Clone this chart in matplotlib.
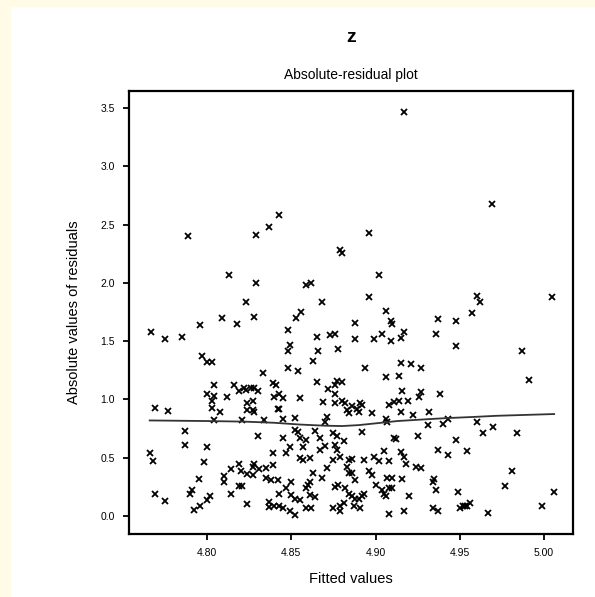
import matplotlib
matplotlib.use('Agg')
import matplotlib.pyplot as plt
from matplotlib.patches import Rectangle

plt.rcParams['font.family'] = ['Liberation Sans', 'DejaVu Sans']

# fitted values (x) and absolute residuals (y)
fitted = [
    4.917, 4.969, 4.843, 4.837, 4.829, 4.789, 4.896, 4.879, 4.880, 4.813,
    4.829, 4.859, 4.862, 4.902, 4.823, 4.868, 4.896, 4.960, 4.962, 5.005,
    4.809, 4.796, 4.818, 4.767, 4.775, 4.785, 4.797, 4.800, 4.803, 4.804,
    4.816, 4.819, 4.822, 4.800, 4.804, 4.812, 4.803, 4.803, 4.769, 4.777,
    4.808, 4.804, 4.821, 4.787, 4.787, 4.800, 4.766, 4.768, 4.798, 4.819,
    4.814, 4.820, 4.810, 4.795, 4.810, 4.819, 4.821, 4.769, 4.791, 4.790,
    4.814, 4.775, 4.802, 4.800, 4.796, 4.792,
    4.828, 4.856, 4.853, 4.848, 4.865, 4.873, 4.876, 4.849, 4.848, 4.866,
    4.878, 4.863, 4.833, 4.848, 4.854, 4.865, 4.877, 4.880, 4.876, 4.872,
    4.823, 4.826, 4.828, 4.830, 4.839, 4.841, 4.876, 4.843, 4.840, 4.845,
    4.855, 4.869, 4.876, 4.880, 4.882, 4.824, 4.827, 4.824, 4.827, 4.828,
    4.842, 4.843, 4.883, 4.884, 4.852, 4.845, 4.834, 4.871, 4.870, 4.852,
    4.854, 4.864, 4.875, 4.877, 4.830, 4.845, 4.855, 4.859, 4.867, 4.870,
    4.881, 4.849, 4.857, 4.876, 4.877, 4.867, 4.839, 4.847, 4.879, 4.855,
    4.857, 4.861, 4.875, 4.884, 4.839, 4.828, 4.827, 4.831, 4.835, 4.871,
    4.883, 4.884, 4.863, 4.824, 4.827, 4.868, 4.835, 4.838, 4.842, 4.850,
    4.861, 4.860, 4.847, 4.859, 4.876, 4.878, 4.882, 4.884, 4.843, 4.850,
    4.852, 4.855, 4.861, 4.864, 4.824, 4.837, 4.837, 4.840, 4.843, 4.845,
    4.849, 4.852, 4.859, 4.862, 4.879, 4.879, 4.881, 4.875,
    4.906, 4.888, 4.909, 4.910, 4.937, 4.948, 4.888, 4.899, 4.904, 4.909,
    4.915, 4.917, 4.936, 4.948, 4.894, 4.915, 4.921, 4.927, 4.906, 4.914,
    4.916, 4.927, 4.926, 4.938, 4.886, 4.889, 4.891, 4.892, 4.890, 4.908,
    4.911, 4.914, 4.919, 4.898, 4.915, 4.922, 4.932, 4.906, 4.907, 4.943,
    4.931, 4.940, 4.892, 4.911, 4.912, 4.925, 4.948, 4.905, 4.915, 4.917,
    4.918, 4.937, 4.943, 4.899, 4.902, 4.908, 4.886, 4.893, 4.924, 4.927,
    4.896, 4.898, 4.886, 4.888, 4.907, 4.910, 4.916, 4.900, 4.908, 4.910,
    4.935, 4.934, 4.936, 4.904, 4.905, 4.906, 4.893, 4.920, 4.949, 4.886,
    4.888, 4.890, 4.892, 4.887, 4.891, 4.908, 4.917, 4.934, 4.937, 4.950,
    4.952,
    4.957, 4.987, 4.991, 4.960, 4.964, 4.970, 4.984, 4.954, 4.981, 4.977,
    5.006, 4.954, 4.956, 4.953, 4.999, 4.967,
]
abs_resid = [
    3.47, 2.68, 2.58, 2.48, 2.41, 2.40, 2.43, 2.28, 2.26, 2.07,
    2.00, 1.98, 2.00, 2.07, 1.84, 1.84, 1.88, 1.89, 1.84, 1.88,
    1.70, 1.64, 1.65, 1.58, 1.52, 1.54, 1.37, 1.32, 1.32, 1.12,
    1.12, 1.07, 1.10, 1.05, 1.03, 1.02, 0.99, 0.93, 0.93, 0.90,
    0.89, 0.82, 0.82, 0.73, 0.61, 0.59, 0.54, 0.47, 0.46, 0.45,
    0.40, 0.39, 0.34, 0.32, 0.29, 0.26, 0.26, 0.19, 0.22, 0.19,
    0.19, 0.13, 0.17, 0.14, 0.09, 0.05,
    1.71, 1.75, 1.70, 1.60, 1.54, 1.55, 1.56, 1.47, 1.42, 1.42,
    1.43, 1.33, 1.23, 1.27, 1.24, 1.15, 1.16, 1.15, 1.12, 1.09,
    1.08, 1.10, 1.10, 1.07, 1.14, 1.12, 1.05, 1.05, 1.02, 1.01,
    1.01, 0.98, 0.97, 0.99, 0.97, 0.97, 0.99, 0.91, 0.91, 0.89,
    0.92, 0.92, 0.91, 0.88, 0.84, 0.83, 0.82, 0.85, 0.81, 0.74,
    0.72, 0.73, 0.71, 0.69, 0.69, 0.67, 0.67, 0.65, 0.67, 0.60,
    0.64, 0.59, 0.59, 0.61, 0.57, 0.57, 0.54, 0.54, 0.51, 0.50,
    0.48, 0.50, 0.48, 0.48, 0.44, 0.45, 0.42, 0.40, 0.41, 0.41,
    0.42, 0.37, 0.37, 0.36, 0.35, 0.33, 0.33, 0.31, 0.31, 0.29,
    0.29, 0.27, 0.24, 0.24, 0.25, 0.27, 0.24, 0.19, 0.19, 0.18,
    0.15, 0.14, 0.18, 0.16, 0.10, 0.12, 0.08, 0.09, 0.09, 0.07,
    0.04, 0.01, 0.07, 0.07, 0.09, 0.04, 0.11, 0.07,
    1.76, 1.66, 1.67, 1.65, 1.69, 1.67, 1.52, 1.52, 1.56, 1.50,
    1.53, 1.58, 1.56, 1.46, 1.27, 1.31, 1.30, 1.27, 1.19, 1.20,
    1.07, 1.06, 1.02, 1.05, 0.94, 0.92, 0.97, 0.95, 0.89, 0.95,
    0.98, 0.99, 0.99, 0.88, 0.89, 0.87, 0.89, 0.83, 0.81, 0.83,
    0.78, 0.79, 0.72, 0.67, 0.66, 0.69, 0.65, 0.56, 0.55, 0.51,
    0.45, 0.57, 0.52, 0.51, 0.47, 0.47, 0.49, 0.48, 0.42, 0.41,
    0.39, 0.35, 0.37, 0.31, 0.33, 0.33, 0.32, 0.27, 0.24, 0.24,
    0.32, 0.29, 0.22, 0.22, 0.19, 0.17, 0.19, 0.17, 0.21, 0.17,
    0.15, 0.15, 0.17, 0.09, 0.07, 0.02, 0.04, 0.07, 0.04, 0.07,
    0.09,
    1.74, 1.42, 1.17, 0.81, 0.71, 0.76, 0.71, 0.56, 0.39, 0.26,
    0.21, 0.09, 0.11, 0.09, 0.09, 0.03,
]

# smoother through the points
smooth_x = [4.766, 4.800, 4.822, 4.840, 4.855, 4.870, 4.880, 4.890, 4.900, 4.913, 4.930,
            4.942, 4.958, 4.972, 4.990, 5.006]
smooth_y = [0.82, 0.815, 0.81, 0.80, 0.785, 0.775, 0.772, 0.78, 0.795, 0.815, 0.83,
            0.84, 0.85, 0.86, 0.868, 0.875]

x_ticks = [4.80, 4.85, 4.90, 4.95, 5.00]
y_ticks = [0.0, 0.5, 1.0, 1.5, 2.0, 2.5, 3.0, 3.5]

fig = plt.figure(figsize=(5.95, 5.97), dpi=100)
# cream strip on the left and top edge
fig.patches.append(Rectangle((0, 0), 10 / 595, 1, transform=fig.transFigure,
                             color='#fffbe6', zorder=0))
fig.patches.append(Rectangle((0, 1 - 6 / 597), 1, 6 / 597, transform=fig.transFigure,
                             color='#fffbe6', zorder=0))

ax = fig.add_axes([129 / 595, 63 / 597, 444 / 595, 443 / 597])
ax.plot(fitted, abs_resid, linestyle='none', marker='x', color='black',
        markersize=4.5, markeredgewidth=1.3)
ax.plot(smooth_x, smooth_y, color='#333333', linewidth=1.3)

ax.set_xlim(4.7537, 5.0172)
ax.set_ylim(-0.154, 3.646)
ax.set_xticks(x_ticks)
ax.set_xticklabels([f'{v:.2f}' for v in x_ticks])
ax.set_yticks(y_ticks)
ax.set_yticklabels([f'{v:.1f}' for v in y_ticks])
ax.tick_params(direction='out', length=4, width=1.3, labelsize=7.5, pad=6)
for s in ax.spines.values():
    s.set_linewidth(1.6)

ax.set_xlabel('Fitted values', fontsize=10.5, labelpad=10)
ax.set_ylabel('Absolute values of residuals', fontsize=10.5, labelpad=14)
ax.set_title('Absolute-residual plot', fontsize=10, pad=9)
fig.text(0.59, 1 - 38 / 597, 'z', fontsize=14, fontweight='bold', ha='center', va='center')

fig.savefig('out.png', dpi=100)
